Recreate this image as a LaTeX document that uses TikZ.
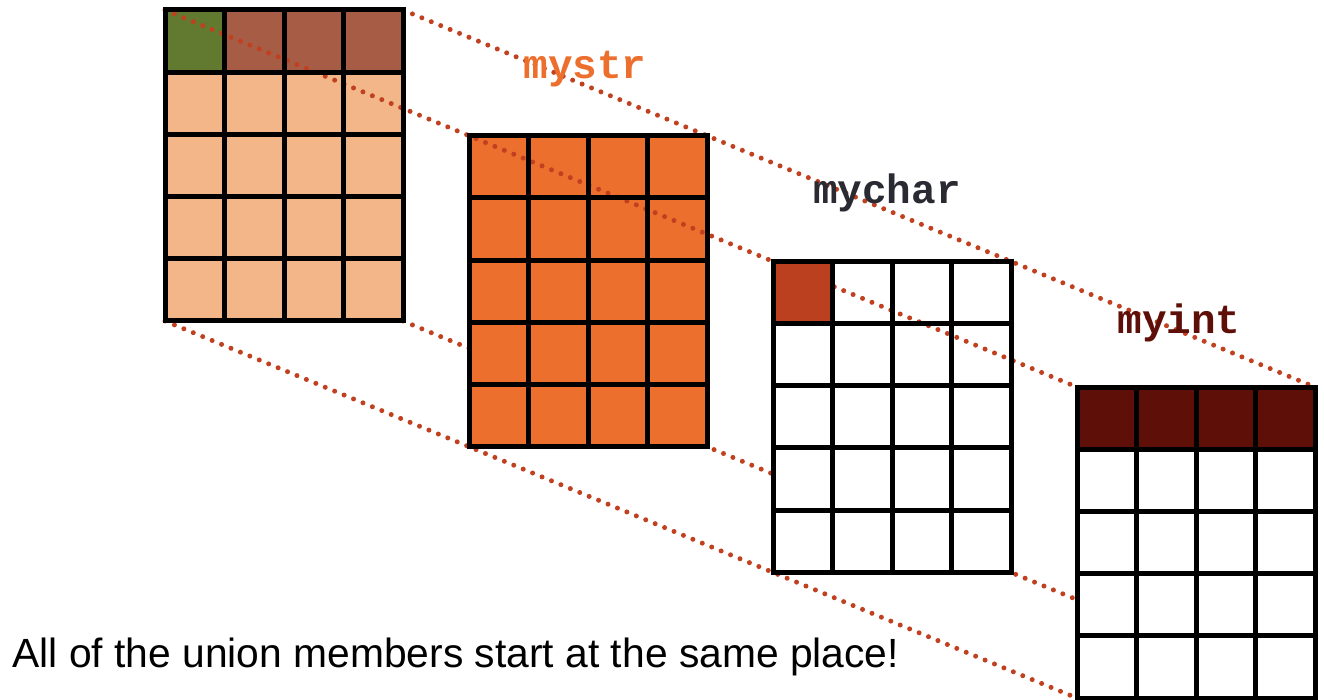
\documentclass[tikz,border=0pt]{standalone}
\usepackage{fontspec}
\setmainfont{Liberation Sans}
\newfontfamily\codefont{Liberation Mono}
\usetikzlibrary{calc}
\usepackage{xcolor}
\definecolor{leaf}{RGB}{97,122,48}
\definecolor{rust}{RGB}{166,92,69}
\definecolor{peach}{RGB}{243,182,137}
\definecolor{tangerine}{RGB}{236,111,46}
\definecolor{brick}{RGB}{186,64,31}
\definecolor{maroon}{RGB}{94,15,8}
\definecolor{slate}{RGB}{42,42,51}
\definecolor{dotred}{RGB}{192,64,32}

\begin{document}
\begin{tikzpicture}[x=.5pt,y=-.5pt,
 gridline/.style={black,line width=2.5pt,line cap=rect},
 guide/.style={dotred,line width=2.5pt,line cap=round,dash pattern=on 0pt off 5.1pt},
 lbl/.style={font=\codefont\bfseries\fontsize{20.5}{24}\selectfont,inner sep=0,anchor=base}]
\useasboundingbox (0,0) rectangle (1324,700);
\foreach \k in {0,...,3} {
 \coordinate (tl\k) at ({165+304*\k},{10+125.7*\k});
 \coordinate (tr\k) at ($(tl\k)+(238,0)$);
 \coordinate (bl\k) at ($(tl\k)+(0,311)$);
 \coordinate (br\k) at ($(tl\k)+(238,311)$);
 \coordinate (row\k) at ($(tl\k)+(238,62.2)$);
 \coordinate (cell\k) at ($(tl\k)+(59.5,62.2)$);
}
\fill[peach] (tl0) rectangle (br0);
\fill[rust] (tl0) rectangle (row0);
\fill[leaf] (tl0) rectangle (cell0);
\draw[guide] (tr0)--(tr3);
\draw[guide] (bl0)--(bl3);
\draw[guide] (br0)--(br3);
\fill[tangerine] (tl1) rectangle (br1);
\fill[white] (tl2) rectangle (br2);
\fill[white] (tl3) rectangle (br3);
\fill[maroon] (tl3) rectangle (row3);
\draw[guide] (tl0)--(tl3);
\fill[brick] (tl2) rectangle (cell2);
\foreach \k in {0,...,3} {
 \foreach \i in {0,...,4} \draw[gridline] ($(tl\k)+(59.5*\i,0)$) --++(0,311);
 \foreach \j in {0,...,5} \draw[gridline] ($(tl\k)+(0,62.2*\j)$) --++(238,0);
}
\node[lbl,tangerine] (strlbl) at (585,79) {mystr};
\node[lbl,slate] (charlbl) at (887,204) {mychar};
\node[lbl,maroon] (intlbl) at (1179,334) {myint};
\node[font=\fontsize{20.4}{24}\selectfont,inner sep=0,anchor=base west] (note) at (12,667) {All of the union members start at the same place!};
\end{tikzpicture}
\end{document}
